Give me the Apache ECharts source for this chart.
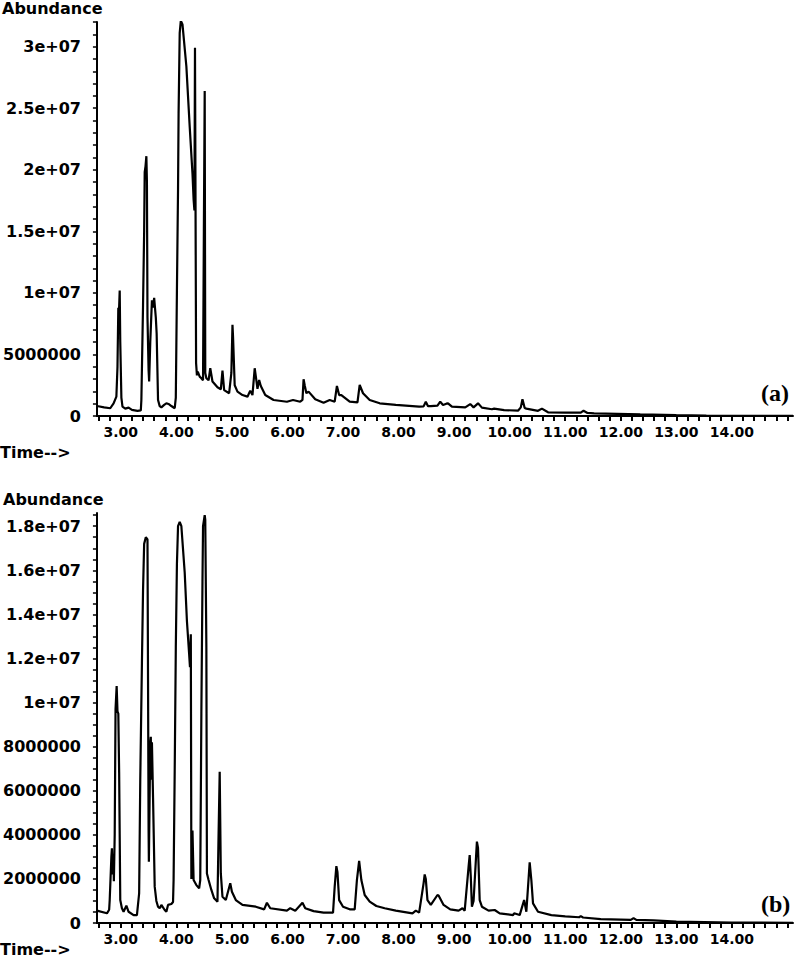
<!DOCTYPE html>
<html>
<head>
<meta charset="utf-8">
<title>Chromatograms (a) and (b)</title>
<script src="https://cdn.jsdelivr.net/npm/echarts@6/dist/echarts.min.js"></script>
<style>
  html, body { margin: 0; padding: 0; background: #fff; }
  #chart { width: 796px; height: 958px; }
</style>
</head>
<body>
<div id="chart"></div>
<script>
// retention time (min) and abundance (millions)
const timeA = [2.57, 2.70, 2.81, 2.87, 2.92, 2.94, 2.955, 2.965, 2.98, 2.99, 3.01, 3.03, 3.08, 3.14, 3.20, 3.30, 3.36,
  3.37, 3.40, 3.42, 3.43, 3.445, 3.46, 3.47, 3.48, 3.50, 3.51, 3.53, 3.56, 3.58, 3.60, 3.63, 3.645, 3.67, 3.70, 3.73,
  3.78, 3.82, 3.87, 3.91, 3.97, 3.99, 4.01, 4.03, 4.04, 4.06, 4.08, 4.11, 4.18, 4.24, 4.29, 4.31, 4.325, 4.335, 4.355,
  4.37, 4.385, 4.42, 4.45, 4.48, 4.495, 4.51, 4.52, 4.54, 4.58, 4.61, 4.65, 4.74, 4.80, 4.83, 4.86, 4.95, 4.99, 5.01,
  5.02, 5.05, 5.10, 5.19, 5.28, 5.33, 5.37, 5.41, 5.44, 5.46, 5.49, 5.52, 5.60, 5.75, 5.99, 6.10, 6.23, 6.27, 6.29,
  6.31, 6.34, 6.38, 6.50, 6.65, 6.76, 6.85, 6.89, 6.93, 6.97, 7.12, 7.26, 7.30, 7.36, 7.48, 7.66, 7.95, 8.37, 8.45,
  8.49, 8.53, 8.58, 8.70, 8.75, 8.80, 8.86, 8.89, 8.96, 9.20, 9.29, 9.35, 9.43, 9.50, 9.68, 9.72, 9.90, 10.15, 10.20,
  10.23, 10.27, 10.30, 10.51, 10.58, 10.69, 11.00, 11.28, 11.33, 11.40, 11.52, 12.35, 13.00, 13.54, 14.20, 15.10];
const abundA = [0.81, 0.70, 0.63, 1.03, 1.57, 4.0, 8.8, 8.2, 10.2, 6.0, 1.5, 0.76, 0.60, 0.68, 0.50, 0.42, 0.45,
  1.3, 9.0, 15.0, 19.8, 20.3, 21.1, 19.0, 8.0, 3.7, 2.8, 6.0, 9.4, 8.8, 9.6, 8.0, 6.7, 1.3, 0.80, 0.70,
  0.90, 1.03, 0.95, 0.81, 0.63, 1.5, 10.2, 18.4, 24.6, 31.1, 32.1, 31.8, 28.4, 23.5, 19.7, 17.6, 16.7, 29.9, 4.3,
  3.3, 3.6, 3.2, 3.07, 2.9, 15.0, 26.4, 3.5, 3.07, 2.9, 3.88, 2.8, 2.33, 2.17, 3.68, 2.1, 1.85, 3.5, 7.4,
  6.45, 2.5, 1.98, 1.7, 1.57, 2.06, 1.7, 3.88, 2.9, 2.2, 2.93, 2.44, 1.7, 1.3, 1.16, 1.3, 1.16, 1.3, 2.98,
  2.5, 1.85, 1.98, 1.36, 1.08, 1.3, 1.16, 2.44, 1.7, 1.7, 1.16, 1.1, 2.52, 1.85, 1.3, 1.03, 0.90, 0.76, 0.78,
  1.16, 0.80, 0.80, 0.85, 1.16, 0.90, 1.0, 1.03, 0.76, 0.70, 0.97, 0.70, 1.03, 0.68, 0.55, 0.60, 0.48, 0.43, 0.70,
  1.36, 0.65, 0.60, 0.42, 0.60, 0.30, 0.28, 0.27, 0.43, 0.25, 0.22, 0.14, 0.08, 0.04, 0.02, 0.01];

const timeB = [2.57, 2.75, 2.79, 2.80, 2.83, 2.84, 2.855, 2.865, 2.875, 2.89, 2.905, 2.925, 2.94, 2.955, 2.97, 2.99,
  3.02, 3.05, 3.10, 3.14, 3.23, 3.29, 3.33, 3.35, 3.38, 3.40, 3.42, 3.45, 3.48, 3.49, 3.50, 3.505, 3.53, 3.54, 3.55,
  3.56, 3.58, 3.61, 3.64, 3.67, 3.70, 3.73, 3.79, 3.82, 3.85, 3.91, 3.94, 3.95, 3.97, 3.99, 4.01, 4.03, 4.06, 4.09,
  4.15, 4.19, 4.23, 4.245, 4.26, 4.27, 4.29, 4.31, 4.36, 4.41, 4.43, 4.45, 4.47, 4.48, 4.51, 4.52, 4.54, 4.55, 4.58,
  4.63, 4.68, 4.74, 4.76, 4.78, 4.80, 4.83, 4.89, 4.97, 5.00, 5.07, 5.19, 5.43, 5.58, 5.63, 5.69, 5.99, 6.05, 6.14,
  6.27, 6.32, 6.47, 6.65, 6.82, 6.85, 6.88, 6.90, 6.93, 7.00, 7.12, 7.21, 7.25, 7.29, 7.33, 7.39, 7.48, 7.60, 7.75,
  7.95, 8.25, 8.31, 8.37, 8.45, 8.47, 8.49, 8.52, 8.58, 8.70, 8.72, 8.81, 8.93, 9.08, 9.15, 9.19, 9.26, 9.28, 9.30,
  9.32, 9.35, 9.41, 9.43, 9.46, 9.50, 9.62, 9.73, 9.82, 10.06, 10.08, 10.18, 10.26, 10.30, 10.36, 10.39, 10.42,
  10.51, 10.75, 11.00, 11.25, 11.28, 11.32, 11.64, 12.18, 12.23, 12.28, 12.59, 13.00, 14.00, 15.10];
const abundB = [0.56, 0.44, 0.60, 1.04, 3.0, 3.39, 2.2, 3.1, 1.9, 4.0, 9.7, 10.75, 9.6, 9.5, 6.8, 1.04,
  0.67, 0.51, 0.79, 0.51, 0.36, 0.36, 1.35, 6.5, 11.8, 15.1, 17.2, 17.5, 17.4, 11.0, 4.2, 2.78, 8.15, 8.45, 6.5,
  8.2, 5.7, 1.65, 1.0, 0.74, 0.67, 0.82, 0.59, 0.51, 0.82, 0.86, 0.95, 1.95, 6.9, 12.5, 16.3, 18.0, 18.2, 18.0,
  15.9, 13.7, 12.2, 11.6, 13.1, 2.0, 4.2, 1.95, 1.72, 1.57, 1.95, 9.5, 15.5, 18.0, 18.5, 18.3, 12.5, 2.25, 1.95,
  1.5, 1.12, 0.97, 4.07, 6.86, 2.25, 1.19, 1.04, 1.8, 1.42, 1.04, 0.82, 0.74, 0.62, 0.92, 0.67, 0.56, 0.67, 0.56,
  0.92, 0.67, 0.54, 0.47, 0.47, 1.65, 2.58, 2.3, 1.04, 0.74, 0.62, 0.62, 1.95, 2.82, 1.95, 1.27, 0.97, 0.77, 0.67,
  0.56, 0.44, 0.56, 0.47, 1.8, 2.2, 2.0, 1.04, 0.82, 1.27, 1.25, 0.82, 0.62, 0.56, 0.67, 0.56, 2.55, 3.08, 2.1,
  0.74, 1.0, 3.69, 3.4, 1.04, 0.74, 0.56, 0.59, 0.44, 0.36, 0.44, 0.36, 1.04, 0.51, 2.75, 1.95, 0.89,
  0.51, 0.36, 0.30, 0.26, 0.31, 0.25, 0.18, 0.14, 0.22, 0.14, 0.12, 0.06, 0.02, 0.01];

// axis tick labels
const timeLabels = [3, 4, 5, 6, 7, 8, 9, 10, 11, 12, 13, 14];
const yLabelsA = [0, 5, 10, 15, 20, 25, 30];
const yLabelsB = [0, 2, 4, 6, 8, 10, 12, 14, 16, 18];

const X_MIN = 2.57, X_MAX = 15.1;
const Y_MAX_A = 32, Y_MAX_B = 18.6;

function steps(from, to, step) {
  const out = [];
  for (let v = from; v <= to + 1e-9; v += step) out.push(Math.round(v * 100) / 100);
  return out;
}

// abundance label like the instrument software: 5000000, 1e+07, 1.5e+07
function fmtAbund(v) {
  if (v === 0) return '0';
  if (v < 10) return String(Math.round(v * 1e6));
  return String(Math.round(v * 100) / 1000) + 'e+07';
}

const labelFont = { fontFamily: 'DejaVu Sans', fontWeight: 'bold', color: '#000' };

function xAxisFor(grid) {
  return {
    type: 'value', gridIndex: grid, min: X_MIN, max: X_MAX,
    axisLine: { lineStyle: { color: '#000', width: 2 } },
    axisTick: { customValues: steps(2.6, 15.0, 0.2), length: 5, lineStyle: { color: '#000', width: 2 } },
    axisLabel: Object.assign({ customValues: timeLabels, fontSize: 14, margin: 9,
      formatter: v => v.toFixed(2) }, labelFont),
    splitLine: { show: false }
  };
}

function yAxisFor(grid, max, labels, tickStep) {
  return {
    type: 'value', gridIndex: grid, min: 0, max: max,
    axisLine: { show: true, lineStyle: { color: '#000', width: 2 } },
    axisTick: { show: true, customValues: steps(0, max, tickStep), length: 4, lineStyle: { color: '#000', width: 1.5 } },
    axisLabel: Object.assign({ customValues: labels, fontSize: 16, margin: 16, formatter: fmtAbund }, labelFont),
    splitLine: { show: false }
  };
}

const chart = echarts.init(document.getElementById('chart'), null, { renderer: 'svg' });
chart.setOption({
  animation: false,
  backgroundColor: '#fff',
  grid: [
    { left: 90, top: 22, width: 703, height: 394 },
    { left: 90, top: 513, width: 703, height: 410 }
  ],
  xAxis: [xAxisFor(0), xAxisFor(1)],
  yAxis: [yAxisFor(0, Y_MAX_A, yLabelsA, 1), yAxisFor(1, Y_MAX_B, yLabelsB, 0.5)],
  series: [
    {
      name: '(a)', type: 'line', xAxisIndex: 0, yAxisIndex: 0, showSymbol: false,
      lineStyle: { color: '#000', width: 2.2 },
      data: timeA.map((t, i) => [t, abundA[i]])
    },
    {
      name: '(b)', type: 'line', xAxisIndex: 1, yAxisIndex: 1, showSymbol: false,
      lineStyle: { color: '#000', width: 2.2 },
      data: timeB.map((t, i) => [t, abundB[i]])
    }
  ],
  graphic: [
    { type: 'text', left: 2, top: 0, style: { text: 'Abundance', font: 'bold 16px "DejaVu Sans"', fill: '#000' } },
    { type: 'text', left: 0, top: 444, style: { text: 'Time-->', font: 'bold 16px "DejaVu Sans"', fill: '#000' } },
    { type: 'text', left: 761, top: 381, style: { text: '(a)', font: 'bold 24px "Liberation Serif"', fill: '#000' } },
    { type: 'text', left: 3, top: 491, style: { text: 'Abundance', font: 'bold 16px "DejaVu Sans"', fill: '#000' } },
    { type: 'text', left: 0, top: 941, style: { text: 'Time-->', font: 'bold 16px "DejaVu Sans"', fill: '#000' } },
    { type: 'text', left: 761, top: 892, style: { text: '(b)', font: 'bold 24px "Liberation Serif"', fill: '#000' } }
  ]
});
window.onresize = function () {
  chart.resize();
};
</script>
</body>
</html>
